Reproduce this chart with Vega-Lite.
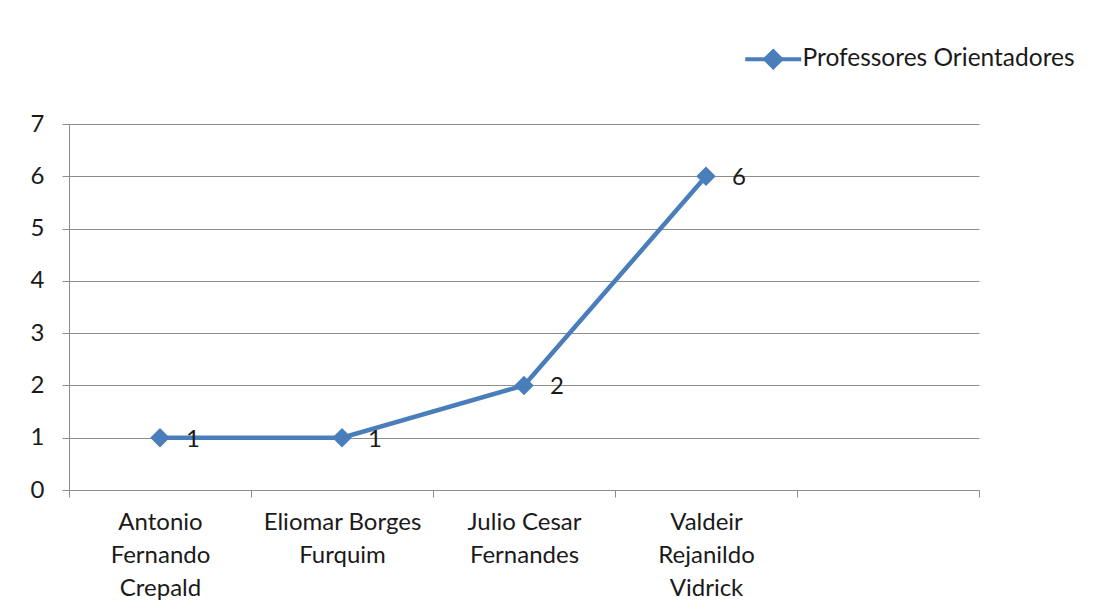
{
  "$schema": "https://vega.github.io/schema/vega-lite/v6.json",
  "autosize": {"type": "none"},
  "padding": {"left": 69, "top": 124, "right": 115, "bottom": 120},
  "width": 910,
  "height": 366,
  "background": "white",
  "config": {
    "font": "Lato",
    "view": {"stroke": null},
    "axis": {"labelFont": "Lato", "labelFontSize": 24, "labelColor": "#1a1a1a", "domainColor": "#8c8c8c", "tickColor": "#8c8c8c", "gridColor": "#8c8c8c", "title": null}
  },
  "data": {
    "values": [
      {"professor": "Antonio Fernando Crepald", "orientacoes": 1, "serie": "Professores Orientadores"},
      {"professor": "Eliomar Borges Furquim", "orientacoes": 1, "serie": "Professores Orientadores"},
      {"professor": "Julio Cesar Fernandes", "orientacoes": 2, "serie": "Professores Orientadores"},
      {"professor": "Valdeir Rejanildo Vidrick", "orientacoes": 6, "serie": "Professores Orientadores"}
    ]
  },
  "encoding": {
    "x": {
      "field": "professor",
      "type": "nominal",
      "sort": null,
      "scale": {"domain": ["Antonio Fernando Crepald", "Eliomar Borges Furquim", "Julio Cesar Fernandes", "Valdeir Rejanildo Vidrick", " "], "paddingInner": 0, "paddingOuter": 0},
      "axis": {
        "labelAngle": 0,
        "grid": false,
        "tickBand": "extent",
        "tickSize": 7,
        "labelPadding": 13,
        "labelLineHeight": 33,
        "labelBaseline": "top",
        "labelExpr": "datum.label == 'Antonio Fernando Crepald' ? ['Antonio', 'Fernando', 'Crepald'] : datum.label == 'Eliomar Borges Furquim' ? ['Eliomar Borges', 'Furquim'] : datum.label == 'Julio Cesar Fernandes' ? ['Julio Cesar', 'Fernandes'] : datum.label == 'Valdeir Rejanildo Vidrick' ? ['Valdeir', 'Rejanildo', 'Vidrick'] : ''"
      }
    },
    "y": {
      "field": "orientacoes",
      "type": "quantitative",
      "scale": {"domain": [0, 7], "nice": false},
      "axis": {"values": [0, 1, 2, 3, 4, 5, 6, 7], "tickSize": 7, "labelPadding": 18, "grid": true, "domain": true}
    }
  },
  "layer": [
    {
      "mark": {"type": "line", "strokeWidth": 4.5},
      "encoding": {
        "color": {
          "field": "serie",
          "type": "nominal",
          "scale": {"range": ["#4A7EBB"]},
          "legend": {
            "title": null,
            "orient": "none",
            "legendX": 692,
            "legendY": -77,
            "symbolType": "M-3.5,0L3.5,0M-1,0L0,-1L1,0L0,1Z",
            "symbolSize": 256,
            "symbolStrokeWidth": 4,
            "symbolFillColor": "#4A7EBB",
            "symbolStrokeColor": "#4A7EBB",
            "labelFont": "Lato",
            "labelFontSize": 24.5,
            "labelColor": "#1a1a1a",
            "labelOffset": 17,
            "labelLimit": 400
          }
        }
      }
    },
    {
      "mark": {"type": "point", "shape": "diamond", "filled": true, "size": 380, "opacity": 1},
      "encoding": {"color": {"field": "serie", "type": "nominal"}}
    },
    {
      "mark": {"type": "text", "dx": 33, "dy": 2, "fontSize": 24, "font": "Lato", "color": "#1a1a1a"},
      "encoding": {"text": {"field": "orientacoes", "type": "quantitative"}}
    }
  ]
}
